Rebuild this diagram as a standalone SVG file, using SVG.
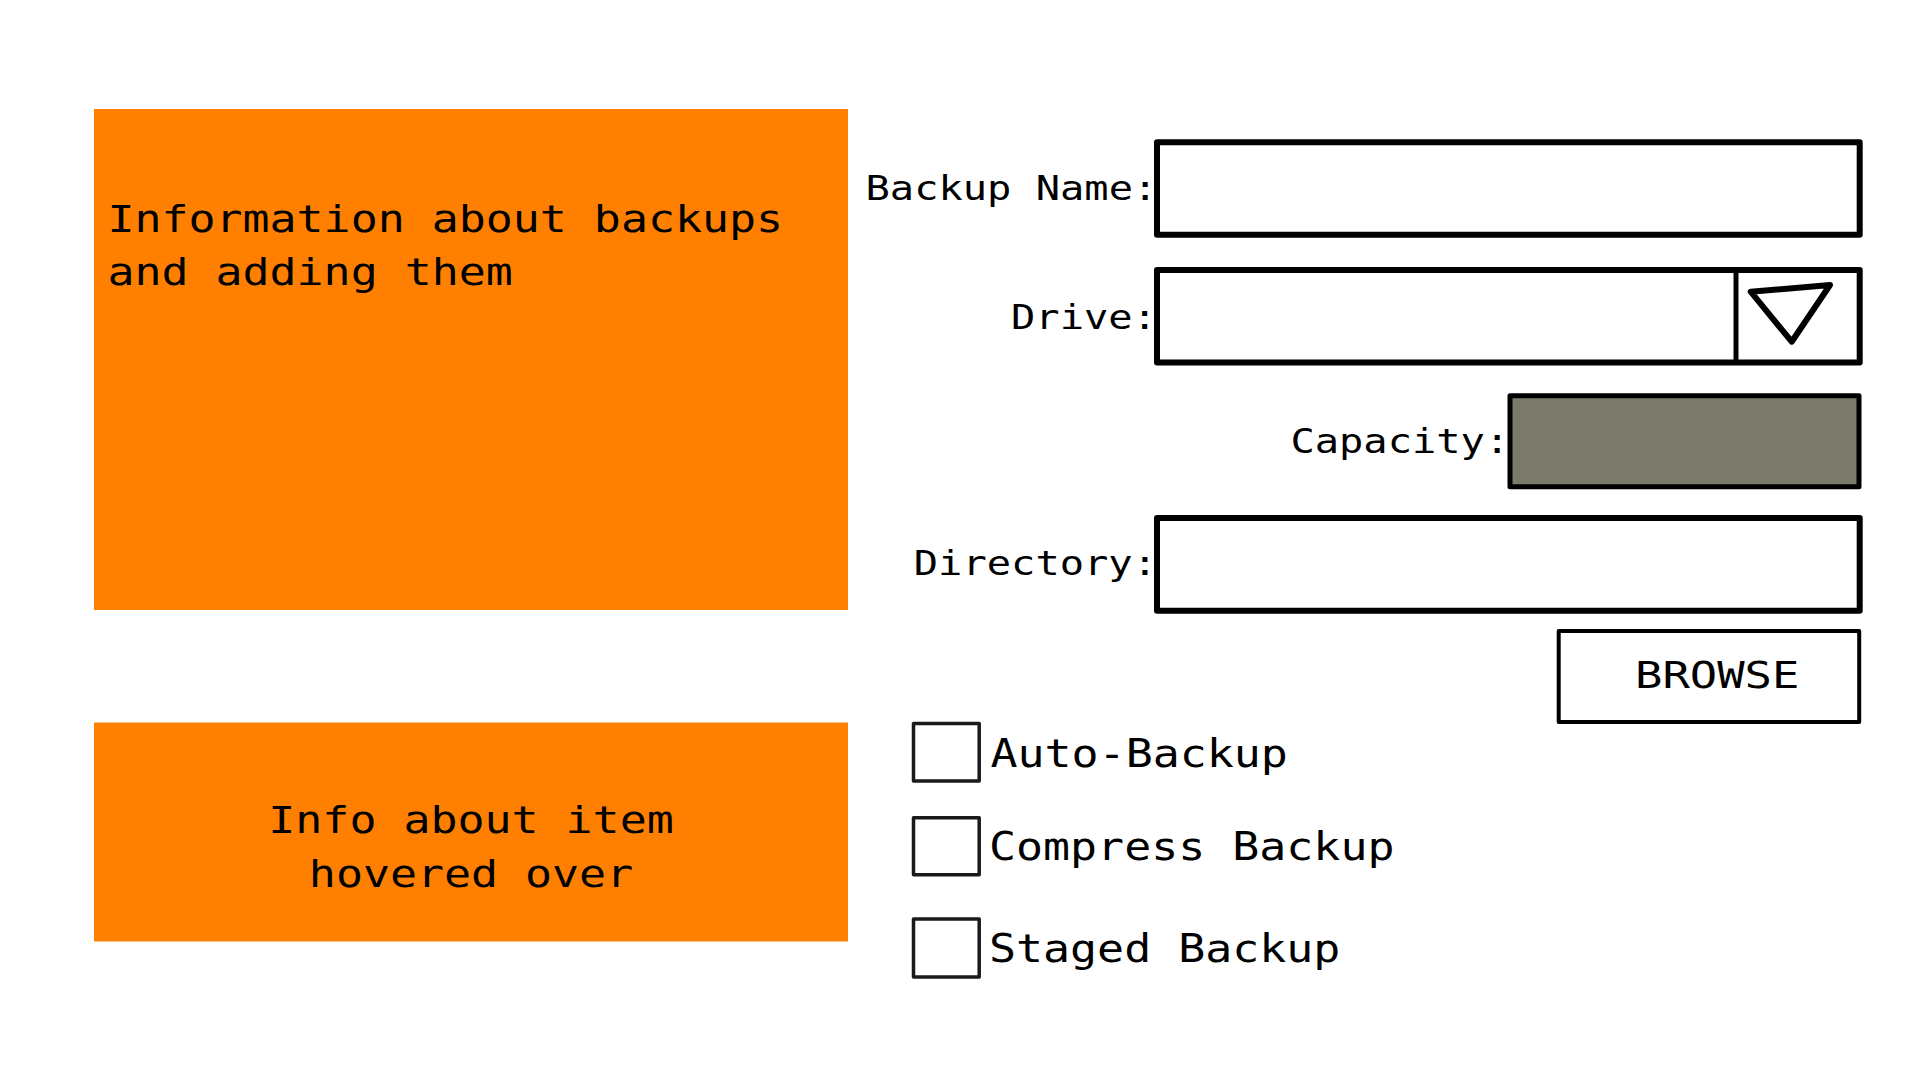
<svg xmlns="http://www.w3.org/2000/svg" width="1920" height="1080" viewBox="0 0 1920 1080">
  <style>
    .panel { fill: #ff8000; stroke: none; }
    .field { fill: #ffffff; stroke: #000000; stroke-width: 6; stroke-linejoin: round; }
    .cap { fill: #7b7b6b; stroke: #000000; stroke-width: 5; stroke-linejoin: round; }
    .btn { fill: #ffffff; stroke: #000000; stroke-width: 4; stroke-linejoin: round; }
    .chk { fill: #ffffff; stroke: #1a1a1a; stroke-width: 3.5; stroke-linejoin: round; }
    text { font-family: "DejaVu Sans Mono", "Liberation Mono", monospace; fill: #000000; }
    .lbl { font-size: 40.4px; }
    .big { font-size: 44.9px; }
    .opt { font-size: 44.9px; }
    .btxt { font-size: 45.5px; }
  </style>
  <rect width="1920" height="1080" fill="#ffffff"/>

  <g id="info-panel">
    <rect class="panel" x="94" y="109" width="754" height="501"/>
    <text class="big" transform="translate(107.4,231.7) scale(1,0.84)">Information about backups</text>
    <text class="big" transform="translate(107.4,285) scale(1,0.84)">and adding them</text>
  </g>

  <g id="hover-panel">
    <rect class="panel" x="94" y="722.5" width="754" height="219"/>
    <text class="big" text-anchor="middle" transform="translate(471,832.7) scale(1,0.84)">Info about item</text>
    <text class="big" text-anchor="middle" transform="translate(471,886.7) scale(1,0.84)">hovered over</text>
  </g>

  <g id="backup-name">
    <text class="lbl" transform="translate(865.5,200) scale(1,0.84)">Backup Name:</text>
    <rect class="field" x="1157" y="142.3" width="702.7" height="92.4"/>
  </g>

  <g id="drive">
    <text class="lbl" transform="translate(1011,329) scale(1,0.84)">Drive:</text>
    <rect class="field" x="1157" y="270" width="702.7" height="92.5"/>
    <line x1="1736" y1="270" x2="1736" y2="362.5" stroke="#000000" stroke-width="5"/>
    <polygon points="1750.7,291.7 1830,285 1791.7,341.7" fill="none" stroke="#000000" stroke-width="6" stroke-linejoin="round"/>
  </g>

  <g id="capacity">
    <text class="lbl" transform="translate(1290.4,453.3) scale(1,0.84)">Capacity:</text>
    <rect class="cap" x="1510" y="395.7" width="349" height="91"/>
  </g>

  <g id="directory">
    <text class="lbl" transform="translate(913.8,575) scale(1,0.84)">Directory:</text>
    <rect class="field" x="1157" y="518" width="702.7" height="92.8"/>
  </g>

  <g id="browse">
    <rect class="btn" x="1558.7" y="631" width="300.5" height="91"/>
    <text class="btxt" transform="translate(1635,688.3) scale(1,0.8)">BROWSE</text>
  </g>

  <g id="auto-backup">
    <rect class="chk" x="913.5" y="723.5" width="65.7" height="57.5"/>
    <text class="opt" transform="translate(990.5,766.7) scale(1,0.87)">Auto-Backup</text>
  </g>

  <g id="compress-backup">
    <rect class="chk" x="913.5" y="817.8" width="65.7" height="57"/>
    <text class="opt" transform="translate(989,860) scale(1,0.87)">Compress Backup</text>
  </g>

  <g id="staged-backup">
    <rect class="chk" x="913.5" y="919" width="65.7" height="58"/>
    <text class="opt" transform="translate(989,961.7) scale(1,0.87)">Staged Backup</text>
  </g>
</svg>
